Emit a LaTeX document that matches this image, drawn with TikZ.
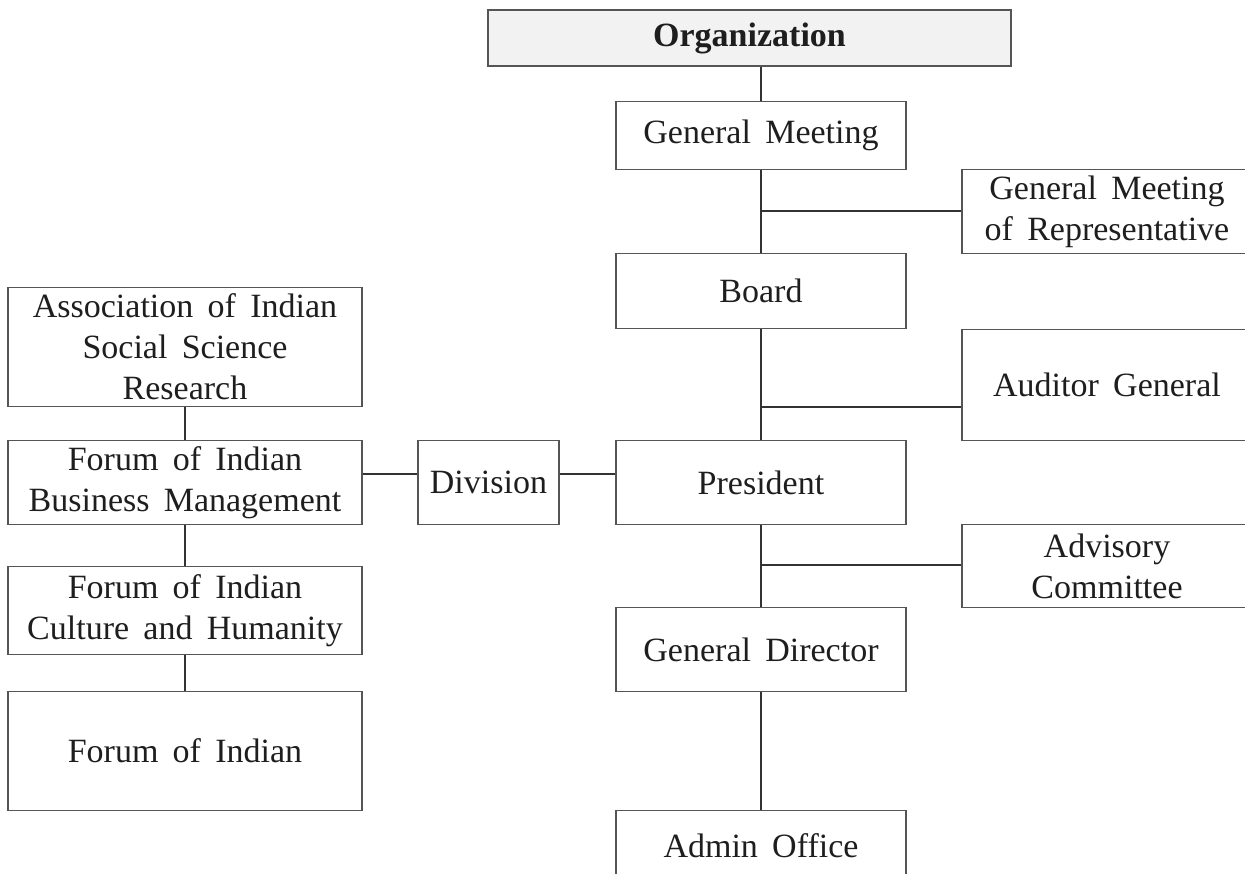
\documentclass[tikz,border=0pt]{standalone}
\usepackage{fontspec}
\setmainfont{Liberation Serif}
\definecolor{boxline}{HTML}{555555}
\definecolor{conline}{HTML}{333333}
\definecolor{txt}{HTML}{1E1E1E}
\definecolor{orgfill}{HTML}{F2F2F2}
\newcommand\myboxfont{\fontsize{17}{20.5}\selectfont\spaceskip=0.42em plus 0.1em minus 0.05em\relax}
\begin{document}
\begin{tikzpicture}[x=0.5pt,y=-0.5pt,
  box/.style={draw=boxline, line width=0.65pt, inner sep=0pt, align=center, text=txt,
    font=\myboxfont},
  con/.style={draw=conline, line width=0.6pt}]
\useasboundingbox (0,0) rectangle (1245,873);
% center column
\node[box, fill=orgfill, minimum width=261.5pt, minimum height=28pt,
  font=\myboxfont\bfseries] (org) at (749.5,38) {Organization};
\node[box, minimum width=145pt, minimum height=34pt] (gm) at (761,135.5) {General Meeting};
\node[box, minimum width=145pt, minimum height=37.5pt] (board) at (761,291) {Board};
\node[box, minimum width=145pt, minimum height=42pt] (pres) at (761,482.5) {President};
\node[box, minimum width=145pt, minimum height=42pt] (gd) at (761,649.5) {General Director};
\node[box, minimum width=145pt, minimum height=35pt] (admin) at (761,845.5) {Admin Office};
% right column
\node[box, minimum width=145pt, minimum height=42pt] (rep) at (1107,211.5) {General Meeting\\of Representative};
\node[box, minimum width=145pt, minimum height=55.5pt] (aud) at (1107,385) {Auditor General};
\node[box, minimum width=145pt, minimum height=41.5pt] (adv) at (1107,566) {Advisory\\Committee};
% left
\node[box, minimum width=70.5pt, minimum height=42pt] (div) at (488.5,482.5) {Division};
\node[box, minimum width=177pt, minimum height=59.5pt] (assoc) at (185,347) {Association of Indian\\Social Science\\Research};
\node[box, minimum width=177pt, minimum height=42pt] (fbm) at (185,482.5) {Forum of Indian\\Business Management};
\node[box, minimum width=177pt, minimum height=44pt] (fch) at (185,610.5) {Forum of Indian\\Culture and Humanity};
\node[box, minimum width=177pt, minimum height=59.5pt] (fi) at (185,751) {Forum of Indian};
% junctions
\coordinate (j1) at (761,211);
\coordinate (j2) at (761,407);
\coordinate (j3) at (761,565);
\coordinate (hl) at (0,474);
% connectors
\draw[con] (gm.north |- org.south) -- (gm.north);
\draw[con] (gm.south) -- (board.north);
\draw[con] (board.south) -- (pres.north);
\draw[con] (pres.south) -- (gd.north);
\draw[con] (gd.south) -- (admin.north);
\draw[con] (j1) -- (j1 -| rep.west);
\draw[con] (j2) -- (j2 -| aud.west);
\draw[con] (j3) -- (j3 -| adv.west);
\draw[con] (fbm.east |- hl) -- (div.west |- hl);
\draw[con] (div.east |- hl) -- (pres.west |- hl);
\draw[con] (assoc.south) -- (fbm.north);
\draw[con] (fbm.south) -- (fch.north);
\draw[con] (fch.south) -- (fi.north);
\end{tikzpicture}
\end{document}
